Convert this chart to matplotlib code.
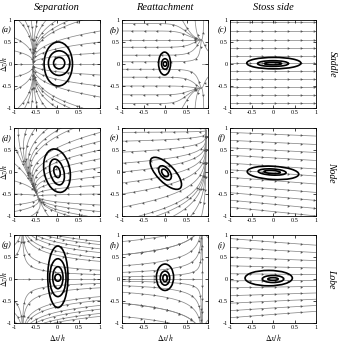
import numpy as np
import matplotlib.pyplot as plt
from matplotlib.patches import Ellipse

plt.rcParams['font.family'] = ['Liberation Serif', 'DejaVu Serif']
plt.rcParams['mathtext.fontset'] = 'stix'
plt.rcParams['axes.unicode_minus'] = False

col_titles = ['Separation', 'Reattachment', 'Stoss side']
row_titles = ['Saddle', 'Node', 'Lobe']
panel_tags = ['(a)', '(b)', '(c)', '(d)', '(e)', '(f)', '(g)', '(h)', '(i)']
ticks = [-1, -0.5, 0, 0.5, 1]
tick_labels = ['-1', '-0.5', '0', '0.5', '1']

# flow-topology parameters
sep_saddle_pt = (-0.55, 0.0)      # sink point and rates (x, y)
sep_saddle_rate = (1.0, 0.35)
rea_saddle_x = 0.85               # divergence line, node offsets
rea_saddle_nodes = 0.55
sep_node_pt = (-0.45, -0.55)      # sink node, slope dx/dy of its line, rates
sep_node_slope = -0.3
sep_node_rate = (1.0, 0.35)
rea_node_pt = (0.95, 0.95)        # source node, rates (x, y)
rea_node_rate = (5.0, 1.0)
stoss_saddle_tilt = (0.0, 0.0)    # v = a + b*y
stoss_node_tilt = (-0.07, 0.033)
stoss_lobe_tilt = (0.0, -0.09)
sep_lobe_x = -0.8
rea_lobe_x = 0.85
lobe_rate = (0.55, 0.4)

# seed points of the drawn streamlines
edge = np.array([-0.9, -0.75, -0.6, -0.45, -0.25, 0.0, 0.3, 0.6])
seeds_a = ([(x, 1) for x in edge] + [(x, -1) for x in edge]
           + [(-1, y) for y in [-0.6, -0.3, 0.0, 0.3, 0.6]]
           + [(1, y) for y in [-0.75, -0.5, -0.25, 0.0, 0.25, 0.5, 0.75]])
seeds_b = ([(-1, y) for y in [-0.9, -0.7, -0.5, -0.3, -0.12, 0.05, 0.2, 0.38, 0.55, 0.75, 0.92]]
           + [(x, 1) for x in [0.4, 0.7, 0.9]] + [(x, -1) for x in [0.4, 0.7, 0.9]]
           + [(1, y) for y in [-0.3, 0.0, 0.3]])
seeds_c = [(-1, y) for y in [-0.88, -0.7, -0.52, -0.34, -0.15, 0.02, 0.18, 0.36, 0.55, 0.75, 0.95]]
seeds_d = ([(x, 1) for x in [-0.9, -0.7, -0.5, -0.2, 0.1, 0.4]]
           + [(1, y) for y in [0.9, 0.7, 0.5, 0.3, 0.1, -0.1, -0.3, -0.5, -0.75, -0.9]]
           + [(-1, y) for y in [0.6, 0.2, -0.2, -0.5, -0.75, -0.9]]
           + [(x, -1) for x in [-0.6, -0.2, 0.3, 0.7]])
seeds_e = ([(-1, y) for y in [0.9, 0.7, 0.45, 0.2, 0.0, -0.25, -0.5, -0.8]]
           + [(x, -1) for x in [-0.6, -0.2, 0.2, 0.6, 0.85]] + [(x, 1) for x in [0.6, 0.8]])
seeds_f = [(-1, y) for y in [-0.8, -0.64, -0.47, -0.3, -0.12, 0.05, 0.2, 0.38, 0.55, 0.72, 0.9]]
seeds_g = ([(x, 1) for x in [-0.95, -0.85, -0.7, -0.5, -0.3]]
           + [(x, -1) for x in [-0.95, -0.85, -0.7, -0.5, -0.3]]
           + [(1, y) for y in [0.85, 0.6, 0.4, 0.2, 0.1, 0.0, -0.1, -0.2, -0.4, -0.6, -0.85]]
           + [(-1, y) for y in [0.5, 0.0, -0.5]])
seeds_h = ([(-1, y) for y in [0.85, 0.55, 0.3, 0.15, 0.05, 0.0, -0.05, -0.15, -0.3, -0.55, -0.85]]
           + [(x, 1) for x in [0.7, 0.85, 0.95]] + [(x, -1) for x in [0.7, 0.85, 0.95]])
seeds_i = [(-1, y) for y in [-0.88, -0.72, -0.55, -0.38, -0.2, -0.04, 0.12, 0.3, 0.5, 0.72, 0.92]]

# correlation contours: centre x, centre y, width, height, angle
cont_a = [(0.05, 0.02, 0.26, 0.26, 0), (0.05, 0.02, 0.5, 0.56, 0), (0.03, 0.0, 0.66, 1.0, 0)]
cont_b = [(0.0, 0.0, 0.08, 0.1, 0), (0.0, 0.0, 0.16, 0.24, 0), (-0.01, 0.01, 0.28, 0.52, 0)]
cont_c = [(0.0, 0.01, 0.4, 0.06, 0), (0.0, 0.01, 0.72, 0.13, 0), (0.02, 0.02, 1.26, 0.26, 0)]
cont_d = [(0.0, 0.0, 0.14, 0.26, 15), (0.0, 0.0, 0.32, 0.6, 15), (0.0, 0.03, 0.6, 1.0, 12)]
cont_e = [(0.0, -0.02, 0.12, 0.2, 40), (0.0, -0.02, 0.22, 0.38, 40), (0.02, -0.03, 0.4, 0.95, 45)]
cont_f = [(-0.02, 0.0, 0.38, 0.07, -3), (-0.02, 0.0, 0.65, 0.14, -3), (0.0, -0.02, 1.2, 0.3, -3)]
cont_g = [(0.02, 0.03, 0.14, 0.16, 0), (0.02, 0.03, 0.24, 0.5, 0), (0.02, 0.03, 0.38, 0.86, 0),
          (0.02, 0.05, 0.47, 1.4, 0)]
cont_h = [(0.0, 0.02, 0.1, 0.16, 0), (0.0, 0.02, 0.22, 0.32, 0), (0.0, 0.04, 0.4, 0.6, 0)]
cont_i = [(0.0, 0.0, 0.24, 0.06, 0), (0.0, 0.0, 0.5, 0.16, 0), (-0.1, 0.02, 1.1, 0.35, 0)]


def f_a(x, y):
    return (-sep_saddle_rate[0] * (x - sep_saddle_pt[0]),
            -sep_saddle_rate[1] * (y - sep_saddle_pt[1]))


def f_b(x, y):
    d = x - rea_saddle_x
    return d, 3 * y * (y ** 2 - rea_saddle_nodes ** 2) * np.exp(-(d / 0.45) ** 2)


def uniform(tilt):
    return lambda x, y: (1.0, tilt[0] + tilt[1] * y)


def f_d(x, y):
    xl = sep_node_pt[0] + sep_node_slope * (y - sep_node_pt[1])
    return -sep_node_rate[0] * (x - xl), -sep_node_rate[1] * (y - sep_node_pt[1])


def f_e(x, y):
    return rea_node_rate[0] * (x - rea_node_pt[0]), rea_node_rate[1] * (y - rea_node_pt[1])


def f_g(x, y):
    return x - sep_lobe_x, -y * (lobe_rate[0] - lobe_rate[1] * abs(y))


def f_h(x, y):
    return -(x - rea_lobe_x), y * (lobe_rate[0] - lobe_rate[1] * abs(y))


def trace(f, p, sign, ds=0.008, nmax=700):
    pts = [np.array(p, float)]
    for _ in range(nmax):
        q = pts[-1]

        def dirn(z):
            u, v = f(z[0], z[1])
            s = np.hypot(u, v)
            return np.array([u, v]) / s * sign if s > 1e-4 else np.zeros(2)
        k1 = dirn(q)
        if not k1.any():
            break
        k2 = dirn(q + ds / 2 * k1)
        k3 = dirn(q + ds / 2 * k2)
        k4 = dirn(q + ds * k3)
        nq = q + ds / 6 * (k1 + 2 * k2 + 2 * k3 + k4)
        if np.abs(nq).max() > 1.0005:
            break
        if len(pts) > 3 and np.hypot(*(nq - pts[-3])) < ds * 0.5:
            break
        pts.append(nq)
    return np.array(pts)


def draw_streams(ax, f, seeds):
    for s in seeds:
        back = trace(f, s, -1)[::-1]
        fwd = trace(f, s, 1)
        line = np.vstack([back, fwd[1:]])
        if len(line) < 3:
            continue
        ax.plot(line[:, 0], line[:, 1], color='#8a8a8a', lw=0.55, zorder=1)
        seg = np.hypot(*np.diff(line, axis=0).T)
        arc = np.concatenate([[0], np.cumsum(seg)])
        for a in np.arange(0.15, arc[-1] - 0.05, 0.3):
            i = np.searchsorted(arc, a)
            i = min(max(i, 1), len(line) - 1)
            d = line[i] - line[i - 1]
            ang = np.degrees(np.arctan2(d[1], d[0]))
            ax.plot(line[i, 0], line[i, 1], marker=(3, 0, ang - 90), ms=2.2,
                    color='#555555', mew=0, zorder=2)


fields = [f_a, f_b, uniform(stoss_saddle_tilt),
          f_d, f_e, uniform(stoss_node_tilt),
          f_g, f_h, uniform(stoss_lobe_tilt)]
seeds = [seeds_a, seeds_b, seeds_c, seeds_d, seeds_e, seeds_f, seeds_g, seeds_h, seeds_i]
conts = [cont_a, cont_b, cont_c, cont_d, cont_e, cont_f, cont_g, cont_h, cont_i]

fig = plt.figure(figsize=(3.4, 3.42), dpi=100)
W, H = 340, 342
col_left = [14, 122, 230]
row_top = [20, 128, 235]
aw, ah = 86, 88

for r in range(3):
    for c in range(3):
        k = r * 3 + c
        ax = fig.add_axes([col_left[c] / W, 1 - (row_top[r] + ah) / H, aw / W, ah / H])
        draw_streams(ax, fields[k], seeds[k])
        for (cx, cy, w, h, ang) in conts[k]:
            ax.add_patch(Ellipse((cx, cy), w, h, angle=ang, fill=False, ec='black',
                                 lw=1.2, zorder=3))
        ax.set_xlim(-1, 1)
        ax.set_ylim(-1, 1)
        ax.set_xticks(ticks)
        ax.set_yticks(ticks)
        ax.set_xticklabels(tick_labels)
        ax.set_yticklabels(tick_labels)
        ax.tick_params(direction='in', length=2, width=0.5, labelsize=4.5, pad=1.5,
                       top=True, right=True)
        for sp in ax.spines.values():
            sp.set_linewidth(0.6)
        if c == 0:
            ax.set_ylabel(r'$\Delta z/h$', fontsize=5.5)
            ax.yaxis.set_label_coords(-0.05, 0.5)
        if r == 2:
            ax.set_xlabel(r'$\Delta x/h$', fontsize=5.5)
            ax.xaxis.set_label_coords(0.5, -0.1)
        fig.text((col_left[c] - 12) / W, 1 - (row_top[r] + 10) / H, panel_tags[k],
                 fontsize=6, style='italic', ha='left', va='center')
    fig.text(332 / W, 1 - (row_top[r] + ah / 2) / H, row_titles[r], fontsize=7,
             style='italic', rotation=270, ha='center', va='center')

for c in range(3):
    fig.text((col_left[c] + aw / 2) / W, 1 - 7 / H, col_titles[c], fontsize=7.5,
             style='italic', ha='center', va='center')

fig.savefig('out.png', dpi=100)
